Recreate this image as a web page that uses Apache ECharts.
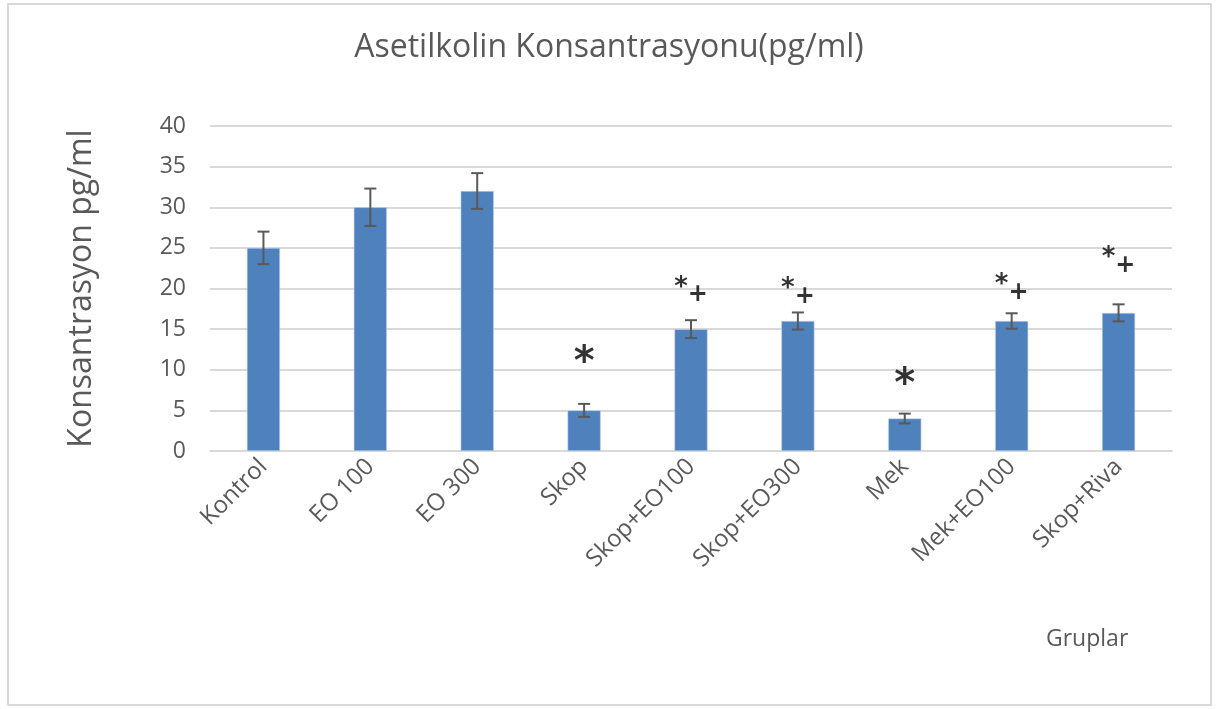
<!DOCTYPE html>
<html>
<head>
<meta charset="utf-8">
<script src="https://cdn.jsdelivr.net/npm/echarts@6/dist/echarts.min.js"></script>
<style>
  html, body { margin: 0; padding: 0; background: #fff; }
  #chartBox { width: 1218px; height: 709px; }
</style>
</head>
<body>
<div id="chartBox"></div>
<script>
// gruplar ve degerler
var groups = ['Kontrol', 'EO 100', 'EO 300', 'Skop', 'Skop+EO100', 'Skop+EO300', 'Mek', 'Mek+EO100', 'Skop+Riva'];
var means = [25, 30, 32, 5, 15, 16, 4, 16, 17];
var errors = [2, 2.3, 2.2, 0.8, 1.1, 1.05, 0.6, 0.95, 1.05];
var marks = ['', '', '', '*', '*+', '*+', '*', '*+', '*+'];
var markLevels = [null, null, null, 11.8, 19.7, 19.5, 9.0, 20.0, 23.3];
var yTicks = [0, 5, 10, 15, 20, 25, 30, 35, 40];

var textColor = '#595959';
var font = '"Open Sans", "Noto Sans", sans-serif';

var chart = echarts.init(document.getElementById('chartBox'));

var errData = means.map(function (m, i) { return [i, m - errors[i], m + errors[i]]; });
var markData = [];
marks.forEach(function (t, i) {
  if (t) markData.push({ value: [i, markLevels[i]], mark: t });
});

var option = {
  animation: false,
  backgroundColor: '#fff',
  title: {
    text: 'Asetilkolin Konsantrasyonu(pg/ml)',
    left: 'center',
    top: 27,
    textStyle: { color: textColor, fontSize: 32, fontWeight: 'normal', fontFamily: font }
  },
  graphic: [
    { type: 'rect', shape: { x: 8, y: 4, width: 1203, height: 701 },
      style: { fill: 'none', stroke: '#d9d9d9', lineWidth: 2 }, silent: true },
    { type: 'text', left: 1046, top: 628,
      style: { text: 'Gruplar', fill: textColor, fontSize: 23, fontFamily: font } }
  ],
  grid: { left: 210, right: 46, top: 126, bottom: 258 },
  xAxis: {
    type: 'category',
    data: groups,
    axisLine: { lineStyle: { color: '#d9d9d9', width: 2 } },
    axisTick: { show: false },
    axisLabel: { rotate: 45, color: textColor, fontSize: 24, fontFamily: font, margin: 12, interval: 0 }
  },
  yAxis: {
    type: 'value',
    min: 0, max: 40, interval: 5,
    name: 'Konsantrasyon pg/ml',
    nameLocation: 'middle',
    nameGap: 112,
    nameTextStyle: { color: textColor, fontSize: 32, fontFamily: font },
    axisLine: { show: false },
    axisTick: { show: false },
    axisLabel: { color: textColor, fontSize: 23, fontFamily: font, margin: 24,
      formatter: function (v) { return yTicks.indexOf(v) >= 0 ? v : ''; } },
    splitLine: { lineStyle: { color: '#d9d9d9', width: 2 } }
  },
  series: [
    {
      type: 'bar',
      data: means,
      barWidth: '31%',
      itemStyle: { color: '#4F81BD', borderColor: '#c6d4e8', borderWidth: 0.6 }
    },
    {
      type: 'custom',
      data: errData,
      z: 5,
      renderItem: function (params, api) {
        var x = api.value(0);
        var lo = api.coord([x, api.value(1)]);
        var hi = api.coord([x, api.value(2)]);
        var w = 6;
        var st = { stroke: '#595959', lineWidth: 2 };
        return {
          type: 'group',
          children: [
            { type: 'line', shape: { x1: hi[0], y1: hi[1], x2: lo[0], y2: lo[1] }, style: st },
            { type: 'line', shape: { x1: hi[0] - w, y1: hi[1], x2: hi[0] + w, y2: hi[1] }, style: st },
            { type: 'line', shape: { x1: lo[0] - w, y1: lo[1], x2: lo[0] + w, y2: lo[1] }, style: st }
          ]
        };
      }
    },
    {
      type: 'scatter',
      data: markData,
      symbolSize: 0,
      z: 6,
      label: {
        show: true,
        position: 'inside',
        formatter: function (p) {
          return p.data.mark === '*' ? '{big|*}' : '{s|*}{p|+}';
        },
        rich: {
          big: { fontSize: 40, fontWeight: 'bold', color: '#000', fontFamily: 'DejaVu Sans', padding: [16, 0, 0, 0] },
          s: { fontSize: 26, fontWeight: 'bold', color: '#000', fontFamily: 'DejaVu Sans', padding: [0, 0, 6, 0] },
          p: { fontSize: 24, fontWeight: 'bold', color: '#000', fontFamily: 'DejaVu Sans', padding: [8, 0, 0, 0] }
        }
      }
    }
  ]
};

chart.setOption(option);
</script>
</body>
</html>
